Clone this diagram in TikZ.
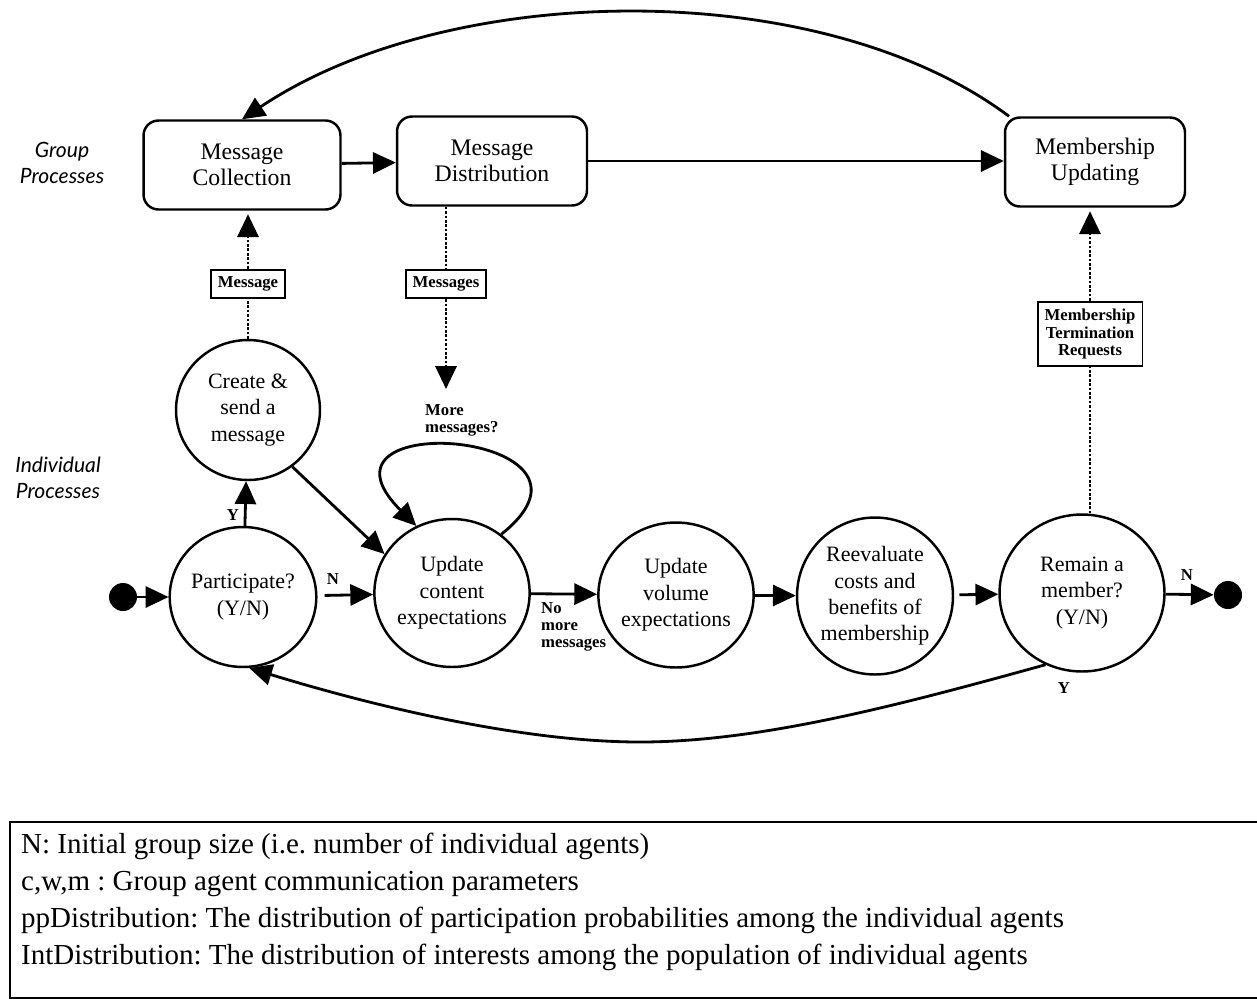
\documentclass[tikz,border=0pt]{standalone}
\usepackage{fontspec}
\setmainfont{Liberation Serif}
\newfontfamily\sidefont{Lato}
\usetikzlibrary{arrows.meta,shapes.geometric}
\frenchspacing

\begin{document}
\begin{tikzpicture}[x=0.02cm,y=-0.02cm,
  every node/.style={font=\fontsize{12.5}{15}\selectfont,align=center},
  proc/.style={draw,line width=1.4pt,rounded corners=0.3cm,minimum height=1.78cm,inner sep=2pt,
    font=\fontsize{13.5}{14.5}\selectfont},
  stage/.style={draw,line width=1.4pt,ellipse,inner sep=0pt},
  msgtag/.style={draw,line width=1.1pt,font=\bfseries\fontsize{9.5}{10}\selectfont,inner xsep=4pt,inner ysep=4pt},
  small/.style={font=\bfseries\fontsize{9.5}{9.8}\selectfont},
  side/.style={font=\sidefont\itshape\fontsize{12}{14.5}\selectfont},
  arr/.style={line width=1.6pt,-{Triangle[length=13pt,width=12pt]}},
  dotline/.style={line width=1.5pt,densely dotted},
  endpt/.style={circle,fill=black,minimum size=0.56cm,inner sep=0pt}]
\useasboundingbox (0,0) rectangle (1257,1001);

% group level
\node[side] (grp) at (62,163) {Group\\Processes};
\node[side] (ind) at (58,478) {Individual\\Processes};
\node[proc,minimum width=3.94cm] (mc) at (242,165) {Message\\Collection};
\node[proc,minimum width=3.8cm] (md) at (492,161) {Message\\Distribution};
\node[proc,minimum width=3.6cm] (mu) at (1095,162) {Membership\\Updating};

% individual level
\node[endpt] (startpt) at (123,597) {};
\node[stage,minimum width=2.8cm,minimum height=2.8cm] (part) at (243,597) {Participate?\\(Y/N)};
\node[stage,minimum width=2.88cm,minimum height=2.8cm] (create) at (248,410) {Create \&\\send a\\message};
\node[stage,minimum width=3.1cm,minimum height=2.96cm] (uc) at (452,593) {Update\\content\\expectations};
\node[stage,minimum width=3.04cm,minimum height=2.9cm] (uv) at (676,595) {Update\\volume\\expectations};
\node[stage,minimum width=3.12cm,minimum height=3.14cm] (reev) at (875,596) {Reevaluate\\costs and\\benefits of\\membership};
\node[stage,minimum width=3.3cm,minimum height=3.14cm] (remain) at (1082,593) {Remain a\\member?\\(Y/N)};
\node[endpt] (endpt) at (1228,595) {};

% message tags
\node[msgtag] (msg) at (248,284) {Message};
\node[msgtag] (msgs) at (446,284) {Messages};
\node[msgtag] (mtr) at (1090,334) {Membership\\Termination\\Requests};
\coordinate (mtip) at (446,389);
\coordinate (low) at (640,742);

% labels
\node[small] (ylab) at (233,515) {Y};
\node[small] (nlab) at (333,579) {N};
\node[small,anchor=north west,align=left] (nomore) at (535,596) {No\\more\\messages};
\node[small,anchor=north west,align=left] (more) at (419,398) {More\\messages?};
\node[small] (nlab2) at (1187,575) {N};
\node[small] (ylab2) at (1064,688) {Y};

% group flow
\draw[arr] (mc) -- (md);
\draw[arr] (md.east) -- (md.east -| mu.west);
\draw[arr] (mu.152) .. controls (820,-25) and (450,-20) .. (mc.north);

% dotted message flow
\draw[dotline] (create) -- (msg);
\draw[dotline,arr,shorten >=2pt] (msg) -- (msg |- mc.south);
\draw[dotline] (md.south -| msgs) -- (msgs);
\draw[dotline,arr] (msgs) -- (mtip);
\draw[dotline] (remain.north -| mtr) -- (mtr);
\draw[dotline,arr,shorten >=2pt] (mtr) -- (mtr |- mu.south);

% individual flow
\draw[arr] (startpt) -- (part);
\draw[arr] (part) -- (create);
\draw[arr,shorten <=4pt] (part) -- (uc);
\draw[arr] (create.-52) -- (uc.150);
\draw[arr] (uc.50) .. controls (630,432) and (295,405) .. (uc.118);
\draw[arr] (uc) -- (uv);
\draw[arr] (uv) -- (reev);
\draw[arr,shorten <=3pt] (reev) -- (remain);
\draw[arr] (remain) -- (endpt);
\draw[arr] (remain.-117) .. controls (900,705) and (760,742) .. (low)
  .. controls (520,742) and (370,705) .. (part.-85);

% legend
\draw[line width=1.4pt] (1257,822) -| (10,998) -- (1257,998);
\node[anchor=north west,align=left,font=\fontsize{16.5}{21}\selectfont] (legend) at (15,827)
  {N: Initial group size (i.e. number of individual agents)\\
   c,w,m : Group agent communication parameters\\
   ppDistribution: The distribution of participation probabilities among the individual agents\\
   IntDistribution: The distribution of interests among the population of individual agents};
\end{tikzpicture}
\end{document}
